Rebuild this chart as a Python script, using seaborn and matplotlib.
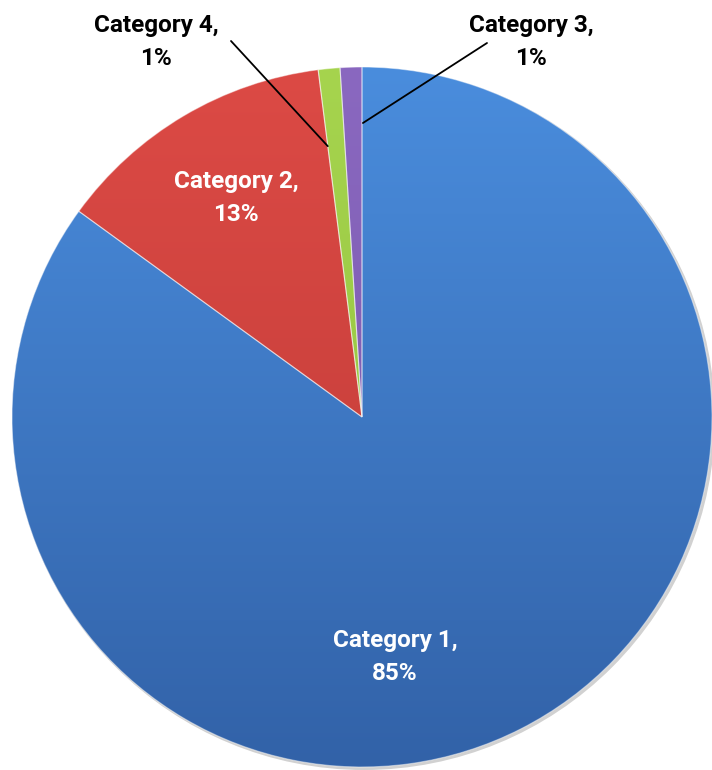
import numpy as np
import matplotlib.pyplot as plt
import seaborn as sns
from matplotlib.colors import LinearSegmentedColormap
from matplotlib.patches import Circle

# wedge order clockwise from 12 o'clock, as in the picture
categories = ["Category 1", "Category 2", "Category 4", "Category 3"]
values = [85, 13, 1, 1]
pct_labels = ["85%", "13%", "1%", "1%"]

top_colors = ["#4a8ddd", "#dc4a45", "#a6d44e", "#8a68c0"]
bottom_colors = ["#3262a8", "#bd3a36", "#8fbf3c", "#7556a8"]

sns.set_style("white")
plt.rcParams["font.family"] = ["Roboto", "DejaVu Sans"]

fig = plt.figure(figsize=(7.12, 7.70), dpi=100)
ax = fig.add_axes([0, 0, 1, 1])

cx, cy, r = 362, 353, 350

# soft shadow under the pie
ax.add_patch(Circle((cx + 2, cy - 2), r + 1, color="#000000", alpha=0.18, zorder=0, lw=0))

wedges, _ = ax.pie(values, startangle=90, counterclock=False,
                   center=(cx, cy), radius=r, colors=bottom_colors,
                   wedgeprops=dict(edgecolor="#ffffff", linewidth=0.8))

# vertical gradient inside each wedge (lighter at the top)
grad = np.linspace(1, 0, 256).reshape(-1, 1)
for w, c_top, c_bot in zip(wedges, top_colors, bottom_colors):
    cmap = LinearSegmentedColormap.from_list("g", [c_bot, c_top])
    im = ax.imshow(grad, cmap=cmap, extent=(cx - r, cx + r, cy - r, cy + r),
                   aspect="auto", zorder=1)
    im.set_clip_path(w)
    w.set_facecolor("none")
    w.set_edgecolor((1, 1, 1, 0.45))
    w.set_zorder(2)

ax.set_xlim(0, 712)
ax.set_ylim(0, 770)
ax.set_aspect("equal")
ax.axis("off")

font = dict(fontsize=17.5, fontweight="bold", ha="center", va="center",
            linespacing=1.55)

# labels inside
ax.text(395, 113, categories[0] + ",\n" + pct_labels[0], color="white", zorder=5, **font)
ax.text(236, 572, categories[1] + ",\n" + pct_labels[1], color="white", zorder=5, **font)

# labels outside with leader lines
ax.text(156, 728, categories[2] + ",\n" + pct_labels[2], color="black", zorder=5, **font)
ax.text(531, 728, categories[3] + ",\n" + pct_labels[3], color="black", zorder=5, **font)

total = sum(values)
cum = np.cumsum(values)
starts = [(231, 729), (487, 727)]
# where along the wedge (0 = leading edge, 1 = trailing edge) and how far out
pos_in_wedge = [0.0, 1.05]
fracs = [0.78, 0.84]
for i, start, p, f in zip([2, 3], starts, pos_in_wedge, fracs):
    ang = 90 - 360 * (cum[i] - values[i] + p * values[i]) / total
    a = np.deg2rad(ang)
    end = (cx + r * f * np.cos(a), cy + r * f * np.sin(a))
    ax.annotate("", xy=end, xytext=start,
                arrowprops=dict(arrowstyle="-", color="black", lw=1.3,
                                shrinkA=0, shrinkB=0), zorder=6)

fig.savefig("out.png", dpi=100, facecolor="white")
